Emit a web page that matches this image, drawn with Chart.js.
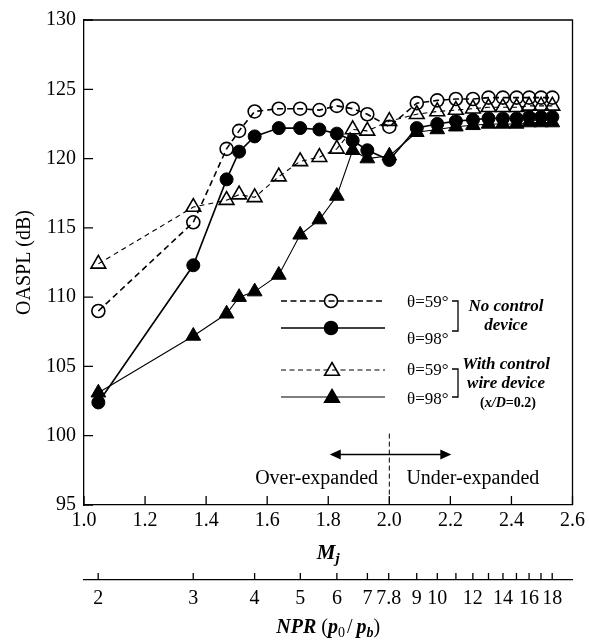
<!DOCTYPE html>
<html><head><meta charset="utf-8">
<script src="https://cdn.jsdelivr.net/npm/chart.js@4.4.0/dist/chart.umd.min.js"></script>
<style>html,body{margin:0;padding:0;background:#fff;}#wrap{width:589px;height:643px;position:relative;}</style>
</head><body><div id="wrap"><canvas id="c" width="589" height="643"></canvas></div>
<script>
// ---- data ----
const mj = [1.047,1.358,1.467,1.508,1.559,1.638,1.708,1.771,1.828,1.880,1.928,2.000,2.090,2.157,2.218,2.274,2.325,2.372,2.417,2.458,2.497,2.534];
const ocNoCtrl59 = [109.0,115.4,120.7,122.0,123.4,123.6,123.6,123.5,123.8,123.6,123.2,122.3,124.0,124.2,124.3,124.3,124.4,124.4,124.4,124.4,124.4,124.4];
const fcNoCtrl98 = [102.4,112.3,118.5,120.5,121.6,122.2,122.2,122.1,121.8,121.3,120.6,119.9,122.2,122.5,122.7,122.8,122.9,122.9,122.9,123.0,123.0,123.0];
const otWire59   = [112.4,116.5,117.0,117.4,117.2,118.7,119.8,120.1,120.7,122.1,122.0,122.7,123.2,123.4,123.5,123.6,123.7,123.7,123.7,123.8,123.8,123.8];
const ftWire98   = [103.1,107.2,108.8,110.0,110.4,111.6,114.5,115.6,117.3,120.6,120.0,120.2,121.9,122.1,122.3,122.4,122.5,122.5,122.5,122.6,122.6,122.6];
const mjTicks = [1.0,1.2,1.4,1.6,1.8,2.0,2.2,2.4,2.6];
const yTicks = [95,100,105,110,115,120,125,130];
const nprTicks = [2,3,4,5,6,7,7.8,9,10,11,12,13,14,15,16,17,18];
const nprLabels = ['2','3','4','5','6','7','7.8','9','10','','12','','14','','16','','18'];
// NPR -> Mj (isentropic, gamma = 1.4) used to place the NPR axis ticks
function machFromNPR(n){ return Math.sqrt(5*(Math.pow(n,1/3.5)-1)); }

const SERIF = '"Liberation Serif", "Times New Roman", serif';
const pts = a => a.map((v,i)=>({x:mj[i], y:v}));

const datasets = [
  {data:pts(otWire59), borderColor:'#000', borderWidth:1.1, borderDash:[5,4], pointStyle:'triangle', pointRadius:8.5, pointBorderWidth:1.6, pointBackgroundColor:'rgba(0,0,0,0)', pointBorderColor:'#000', order:4},
  {data:pts(ocNoCtrl59), borderColor:'#000', borderWidth:1.6, borderDash:[6,4], pointStyle:'circle', pointRadius:6.5, pointBorderWidth:1.6, pointBackgroundColor:'rgba(0,0,0,0)', pointBorderColor:'#000', order:3},
  {data:pts(fcNoCtrl98), borderColor:'#000', borderWidth:1.6, pointStyle:'circle', pointRadius:6.5, pointBorderWidth:1, pointBackgroundColor:'#000', pointBorderColor:'#000', order:2},
  {data:pts(ftWire98), borderColor:'#000', borderWidth:1.1, pointStyle:'triangle', pointRadius:8.5, pointBorderWidth:1, pointBackgroundColor:'#000', pointBorderColor:'#000', order:1}
];

function marker(ctx, style, x, y, r, filled){
  ctx.beginPath();
  if(style==='circle'){ ctx.arc(x,y,r,0,Math.PI*2); }
  else { for(let k=0;k<3;k++){ const a=k*2*Math.PI/3; const px=x+Math.sin(a)*r, py=y-Math.cos(a)*r; k?ctx.lineTo(px,py):ctx.moveTo(px,py);} ctx.closePath(); }
  if(filled){ ctx.fillStyle='#000'; ctx.fill(); }
  ctx.lineWidth=1.6; ctx.strokeStyle='#000'; ctx.stroke();
}
function rich(ctx, parts, cx, y){
  let w=0; parts.forEach(p=>{ctx.font=p.f; w+=ctx.measureText(p.t).width+(p.dx||0);});
  let x=cx-w/2; ctx.textAlign='left'; ctx.textBaseline='alphabetic';
  parts.forEach(p=>{ctx.font=p.f; x+=(p.dx||0); ctx.fillText(p.t,x,y+(p.dy||0)); x+=ctx.measureText(p.t).width;});
}

const decor = {
  id:'decor',
  afterDraw(chart){
    const {ctx, chartArea:a} = chart; const x=chart.scales.x, y=chart.scales.y, npr=chart.scales.npr;
    ctx.save();
    ctx.strokeStyle='#000'; ctx.fillStyle='#000'; ctx.lineWidth=1.3; ctx.setLineDash([]);
    ctx.beginPath(); ctx.moveTo(a.left,a.top); ctx.lineTo(a.right,a.top); ctx.lineTo(a.right,a.bottom); ctx.stroke();
    ctx.beginPath();
    x.ticks.forEach(t=>{const p=x.getPixelForValue(t.value); ctx.moveTo(p,a.bottom); ctx.lineTo(p,a.bottom-9);});
    y.ticks.forEach(t=>{const p=y.getPixelForValue(t.value); ctx.moveTo(a.left,p); ctx.lineTo(a.left+9,p);});
    npr.ticks.forEach(t=>{const p=npr.getPixelForValue(t.value); ctx.moveTo(p,npr.top); ctx.lineTo(p,npr.top-7);});
    ctx.stroke();
    // regime annotation
    const x2=x.getPixelForValue(2.0);
    ctx.lineWidth=1; ctx.setLineDash([5,3]);
    ctx.beginPath(); ctx.moveTo(x2,y.getPixelForValue(100.15)); ctx.lineTo(x2,a.bottom); ctx.stroke();
    ctx.setLineDash([]); ctx.lineWidth=1.5;
    const ay=y.getPixelForValue(98.64), xa=x.getPixelForValue(1.805), xb=x.getPixelForValue(2.203);
    ctx.beginPath(); ctx.moveTo(xa+6,ay); ctx.lineTo(xb-6,ay); ctx.stroke();
    ctx.beginPath(); ctx.moveTo(xa,ay); ctx.lineTo(xa+11,ay-5); ctx.lineTo(xa+11,ay+5); ctx.closePath(); ctx.fill();
    ctx.beginPath(); ctx.moveTo(xb,ay); ctx.lineTo(xb-11,ay-5); ctx.lineTo(xb-11,ay+5); ctx.closePath(); ctx.fill();
    ctx.font='20px '+SERIF; ctx.textBaseline='middle';
    const ty=y.getPixelForValue(96.93);
    ctx.textAlign='right'; ctx.fillText('Over-expanded', x.getPixelForValue(1.963), ty);
    ctx.textAlign='left'; ctx.fillText('Under-expanded', x.getPixelForValue(2.056), ty);
    // legend
    const rows=[
      {y:301, dash:[6,3.5], lw:1.6, st:'circle', r:6.5, fill:false, mx:331, lab:'θ=59°', ly:303},
      {y:328, dash:[], lw:1.6, st:'circle', r:6.5, fill:true, mx:331, lab:'θ=98°', ly:340},
      {y:370, dash:[5,3.5], lw:1.1, st:'triangle', r:8.5, fill:false, mx:332, lab:'θ=59°', ly:371},
      {y:397, dash:[], lw:1.1, st:'triangle', r:8.5, fill:true, mx:332, lab:'θ=98°', ly:400}
    ];
    rows.forEach(rw=>{
      ctx.setLineDash(rw.dash); ctx.lineWidth=rw.lw; ctx.beginPath(); ctx.moveTo(281,rw.y); ctx.lineTo(385,rw.y); ctx.stroke();
      ctx.setLineDash([]);
      marker(ctx, rw.st, rw.mx, rw.st==='triangle'? rw.y+1 : rw.y, rw.r, rw.fill);
      ctx.font='17px '+SERIF; ctx.textAlign='left'; ctx.textBaseline='middle'; ctx.fillStyle='#000';
      ctx.fillText(rw.lab, 407, rw.ly);
    });
    ctx.lineWidth=1.3; ctx.setLineDash([]);
    [[301,331],[369,397]].forEach(b=>{ctx.beginPath(); ctx.moveTo(452,b[0]); ctx.lineTo(458,b[0]); ctx.lineTo(458,b[1]); ctx.lineTo(452,b[1]); ctx.stroke();});
    ctx.font='bold italic 17px '+SERIF; ctx.textAlign='center'; ctx.textBaseline='middle';
    ctx.fillText('No control',506,307); ctx.fillText('device',506,326);
    ctx.fillText('With control',506,365); ctx.fillText('wire device',506,384);
    const sm='bold 14px '+SERIF, smi='bold italic 14px '+SERIF;
    rich(ctx,[{t:'(',f:sm},{t:'x/D',f:smi},{t:'=0.2)',f:sm}],508,407);
    // axis titles with subscripts
    const cx=(a.left+a.right)/2;
    rich(ctx,[{t:'M',f:'bold italic 21px '+SERIF},{t:'j',f:'bold italic 15px '+SERIF,dy:4}],cx,559);
    const B='bold italic 20px '+SERIF, R='20px '+SERIF, Bs='bold italic 14px '+SERIF, Rs='14px '+SERIF;
    rich(ctx,[{t:'NPR',f:B},{t:' (',f:R},{t:'p',f:B},{t:'0',f:Rs,dy:4},{t:'/',f:R,dx:2},{t:'p',f:B,dx:4},{t:'b',f:Bs,dy:4},{t:')',f:R}],cx,633);
    ctx.restore();
  }
};

const tickFont = {family:SERIF, size:20};
new Chart(document.getElementById('c'), {
  type:'line',
  data:{datasets},
  plugins:[decor],
  options:{
    responsive:false, animation:false, devicePixelRatio:1,
    layout:{padding:{top:15,right:16,left:0,bottom:0}},
    plugins:{legend:{display:false}, tooltip:{enabled:false}},
    scales:{
      x:{type:'linear', position:'bottom', weight:0, min:1.0, max:2.6,
        afterBuildTicks:s=>{s.ticks=mjTicks.map(v=>({value:v}));},
        afterFit:s=>{s.height=75;},
        ticks:{autoSkip:false, maxRotation:0, padding:4, color:'#000', font:tickFont, callback:v=>Number(v).toFixed(1)},
        grid:{display:true, drawOnChartArea:false, drawTicks:false},
        border:{display:true, color:'#000', width:1.3}},
      npr:{type:'linear', position:'bottom', weight:10, min:1.0, max:2.6,
        afterBuildTicks:s=>{s.ticks=nprTicks.map(n=>({value:machFromNPR(n)}));},
        afterFit:s=>{s.height=63;},
        ticks:{autoSkip:false, maxRotation:0, padding:7, color:'#000', font:tickFont, callback:(v,i)=>nprLabels[i]},
        grid:{display:true, drawOnChartArea:false, drawTicks:false},
        border:{display:true, color:'#000', width:1.3}},
      y:{type:'linear', min:95, max:130,
        afterBuildTicks:s=>{s.ticks=yTicks.map(v=>({value:v}));},
        afterFit:s=>{s.width=84;},
        ticks:{padding:8, color:'#000', font:tickFont, callback:v=>String(v)},
        title:{display:true, text:'OASPL (dB)', color:'#000', font:{family:SERIF, size:20}, padding:{top:13,bottom:0}},
        grid:{display:true, drawOnChartArea:false, drawTicks:false},
        border:{display:true, color:'#000', width:1.3}}
    }
  }
});
</script></body></html>
